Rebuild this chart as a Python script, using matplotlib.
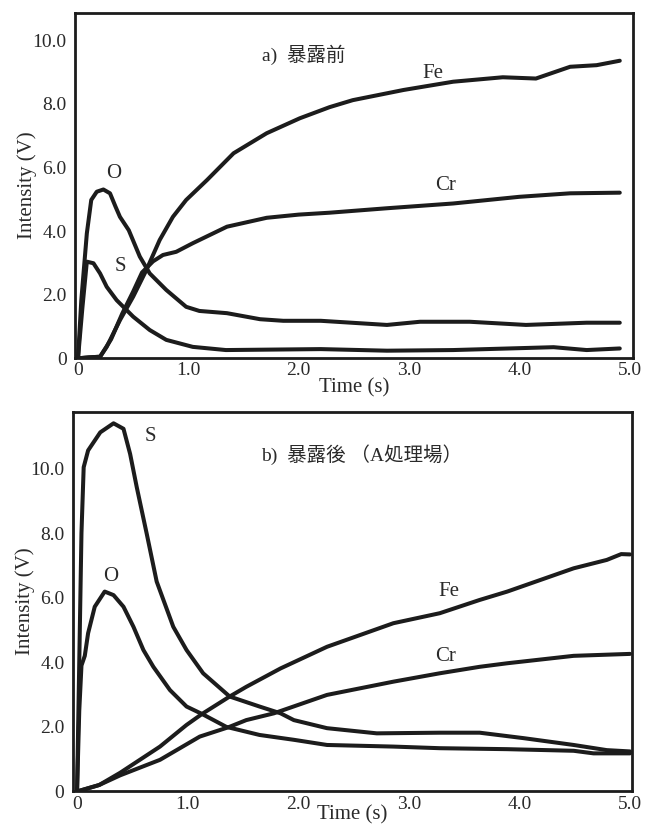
import matplotlib
matplotlib.use("Agg")
import matplotlib.pyplot as plt

plt.rcParams['font.family'] = ['Liberation Serif', 'Noto Sans CJK JP']

# ---------- panel a) before exposure ----------
a_fe_t = [0, 0.1, 0.2, 0.26, 0.38, 0.5, 0.62, 0.74, 0.86, 0.98, 1.17, 1.41, 1.71, 2.01, 2.28, 2.49, 2.95, 3.4, 3.85, 4.15, 4.46, 4.7, 4.91]
a_fe_v = [0, 0.03, 0.05, 0.36, 1.2, 1.94, 2.78, 3.72, 4.45, 4.98, 5.61, 6.45, 7.08, 7.55, 7.9, 8.12, 8.44, 8.7, 8.84, 8.8, 9.17, 9.22, 9.36]

a_cr_t = [0, 0.1, 0.2, 0.3, 0.4, 0.5, 0.58, 0.68, 0.77, 0.89, 1.04, 1.35, 1.71, 2.0, 2.28, 2.8, 3.4, 4.0, 4.46, 4.91]
a_cr_v = [0, 0.03, 0.05, 0.6, 1.4, 2.1, 2.7, 3.05, 3.25, 3.35, 3.62, 4.14, 4.42, 4.52, 4.58, 4.72, 4.87, 5.08, 5.19, 5.21]

a_o_t = [0, 0.03, 0.08, 0.12, 0.17, 0.23, 0.29, 0.34, 0.38, 0.46, 0.56, 0.65, 0.8, 0.98, 1.1, 1.35, 1.65, 1.86, 2.2, 2.8, 3.1, 3.55, 4.06, 4.61, 4.91]
a_o_v = [0, 1.83, 3.93, 4.98, 5.24, 5.31, 5.19, 4.77, 4.45, 4.03, 3.2, 2.67, 2.15, 1.62, 1.49, 1.42, 1.23, 1.18, 1.18, 1.05, 1.15, 1.15, 1.05, 1.12, 1.12]

a_s_t = [0, 0.04, 0.08, 0.14, 0.2, 0.26, 0.35, 0.5, 0.65, 0.8, 1.04, 1.34, 2.2, 2.8, 3.4, 4.31, 4.61, 4.91]
a_s_v = [0, 1.6, 3.04, 2.99, 2.67, 2.25, 1.83, 1.31, 0.89, 0.58, 0.36, 0.26, 0.29, 0.24, 0.26, 0.35, 0.26, 0.31]

# ---------- panel b) after exposure ----------
b_s_t = [0, 0.02, 0.04, 0.06, 0.10, 0.21, 0.33, 0.42, 0.48, 0.54, 0.63, 0.72, 0.87, 0.99, 1.14, 1.38, 1.65, 1.84, 1.96, 2.26, 2.71, 3.28, 3.64, 4.04, 4.49, 4.79, 5.0]
b_s_v = [0, 4.0, 8.0, 10.04, 10.56, 11.12, 11.4, 11.23, 10.45, 9.42, 7.98, 6.5, 5.1, 4.38, 3.66, 2.94, 2.63, 2.42, 2.21, 1.96, 1.8, 1.82, 1.82, 1.65, 1.44, 1.28, 1.24]

b_o_t = [0, 0.02, 0.04, 0.07, 0.1, 0.16, 0.25, 0.33, 0.42, 0.51, 0.6, 0.69, 0.84, 0.99, 1.13, 1.35, 1.65, 1.96, 2.26, 2.86, 3.28, 3.89, 4.49, 4.67, 5.0]
b_o_v = [0, 2.5, 3.9, 4.2, 4.9, 5.72, 6.19, 6.08, 5.72, 5.1, 4.38, 3.86, 3.14, 2.63, 2.4, 2.0, 1.75, 1.6, 1.44, 1.39, 1.34, 1.31, 1.26, 1.18, 1.18]

b_fe_t = [0, 0.2, 0.39, 0.75, 0.99, 1.13, 1.38, 1.53, 1.84, 2.26, 2.86, 3.28, 3.64, 3.89, 4.49, 4.79, 4.92, 5.0]
b_fe_v = [0, 0.2, 0.58, 1.39, 2.06, 2.4, 2.94, 3.24, 3.81, 4.48, 5.21, 5.52, 5.93, 6.19, 6.91, 7.17, 7.35, 7.34]

b_cr_t = [0, 0.2, 0.39, 0.75, 1.11, 1.37, 1.53, 1.78, 2.26, 2.86, 3.28, 3.64, 3.89, 4.49, 5.0]
b_cr_v = [0, 0.2, 0.5, 0.98, 1.7, 1.99, 2.21, 2.42, 2.99, 3.4, 3.66, 3.86, 3.97, 4.2, 4.26]

x_ticks = [0, 1, 2, 3, 4, 5]
x_ticklabels = ["0", "1.0", "2.0", "3.0", "4.0", "5.0"]
y_ticks = [0, 2, 4, 6, 8, 10]
y_ticklabels = ["0", "2.0", "4.0", "6.0", "8.0", "10.0"]

title_a = "a)  暴露前"
title_b = "b)  暴露後 （A処理場）"

fig = plt.figure(figsize=(6.57, 8.26), dpi=100)
ax1 = fig.add_axes([0.1142, 0.5662, 0.8493, 0.4184])
ax2 = fig.add_axes([0.1107, 0.0418, 0.8508, 0.4598])

lc = '#1c1c1c'
tc = '#2a2a2a'
lw = 2.9
fs = 14
lfs = 15

def style(ax, xlim, ytop, xlabelpad, ylabelpad):
    ax.set_xlim(*xlim)
    ax.set_ylim(0, ytop)
    ax.set_xticks(x_ticks)
    ax.set_xticklabels(x_ticklabels)
    ax.set_yticks(y_ticks)
    ax.set_yticklabels(y_ticklabels)
    ax.tick_params(length=0, labelsize=fs, colors=tc)
    ax.tick_params(axis='x', pad=3)
    ax.tick_params(axis='y', pad=6)
    for s in ax.spines.values():
        s.set_linewidth(2.0)
        s.set_color(lc)
    ax.set_xlabel("Time (s)", fontsize=lfs, labelpad=xlabelpad, color=tc)
    ax.set_ylabel("Intensity (V)", fontsize=lfs, labelpad=ylabelpad, color=tc)

for t, v in [(a_fe_t, a_fe_v), (a_cr_t, a_cr_v), (a_o_t, a_o_v), (a_s_t, a_s_v)]:
    ax1.plot(t, v, color=lc, lw=lw, solid_capstyle='round', solid_joinstyle='round')
style(ax1, (-0.027, 5.03), 10.87, -1, -3.5)
ax1.text(0.32, 5.82, "O", fontsize=lfs, ha='center', va='center', color=tc)
ax1.text(0.38, 2.88, "S", fontsize=lfs, ha='center', va='center', color=tc)
ax1.text(3.22, 8.96, "Fe", fontsize=lfs, ha='center', va='center', color=tc)
ax1.text(3.33, 5.45, "Cr", fontsize=lfs, ha='center', va='center', color=tc)
ax1.text(2.05, 9.54, title_a, fontsize=14, ha='center', va='center', color=tc)

for t, v in [(b_s_t, b_s_v), (b_o_t, b_o_v), (b_fe_t, b_fe_v), (b_cr_t, b_cr_v)]:
    ax2.plot(t, v, color=lc, lw=lw, solid_capstyle='round', solid_joinstyle='round')
style(ax2, (-0.039, 5.015), 11.76, -5.5, -3.5)
ax2.text(0.66, 10.98, "S", fontsize=lfs, ha='center', va='center', color=tc)
ax2.text(0.30, 6.65, "O", fontsize=lfs, ha='center', va='center', color=tc)
ax2.text(3.36, 6.19, "Fe", fontsize=lfs, ha='center', va='center', color=tc)
ax2.text(3.33, 4.17, "Cr", fontsize=lfs, ha='center', va='center', color=tc)
ax2.text(2.57, 10.42, title_b, fontsize=14, ha='center', va='center', color=tc)

fig.savefig("out.png", dpi=100)
